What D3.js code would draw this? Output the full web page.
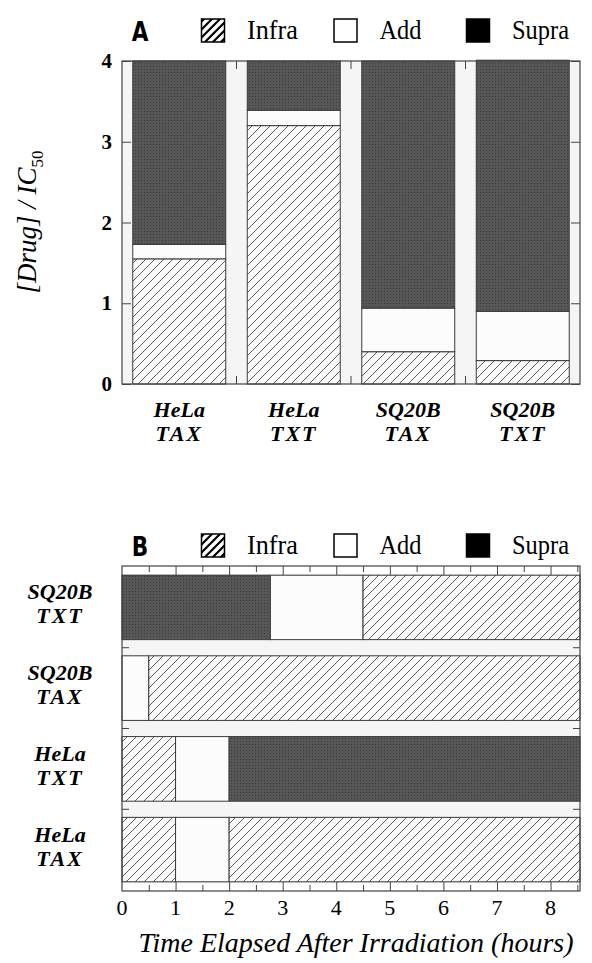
<!DOCTYPE html>
<html>
<head>
<meta charset="utf-8">
<script src="https://cdn.jsdelivr.net/npm/d3@7"></script>
<style>
  body { margin: 0; background: #fff; }
  svg { display: block; }
</style>
</head>
<body>
<svg id="chart" width="592" height="963"></svg>
<script>
// ---- panel A : ratio ranges (stacked) ----
var groupsA = ["HeLa|TAX", "HeLa|TXT", "SQ20B|TAX", "SQ20B|TXT"];
var infraA = [1.55, 3.20, 0.40, 0.29];
var addA   = [0.18, 0.19, 0.54, 0.61];
var supraA = [2.27, 0.61, 3.06, 3.11];
var yTicksA = [0, 1, 2, 3, 4];

// ---- panel B : time segments per row ----
var rowsB = ["SQ20B|TXT", "SQ20B|TAX", "HeLa|TXT", "HeLa|TAX"];
var segRowB  = ["SQ20B|TXT", "SQ20B|TXT", "SQ20B|TXT", "SQ20B|TAX", "SQ20B|TAX",
                "HeLa|TXT", "HeLa|TXT", "HeLa|TXT", "HeLa|TAX", "HeLa|TAX", "HeLa|TAX"];
var segFromB = [0, 2.77, 4.5, 0, 0.5, 0, 1, 2, 0, 1, 2];
var segToB   = [2.77, 4.5, 8.55, 0.5, 8.55, 1, 2, 8.55, 1, 2, 8.55];
var segTypeB = ["Supra", "Add", "Infra", "Add", "Infra", "Infra", "Add", "Supra", "Infra", "Add", "Infra"];
var xTicksB = [0, 1, 2, 3, 4, 5, 6, 7, 8];
var xMaxB = 8.55;

var legendKeys = ["Infra", "Add", "Supra"];

var serif = "'Liberation Serif', 'Times New Roman', serif";
var svg = d3.select("#chart");

// patterns
var defs = svg.append("defs");
var hatch = defs.append("pattern").attr("id", "hatch")
    .attr("patternUnits", "userSpaceOnUse").attr("width", 9).attr("height", 9);
hatch.append("rect").attr("width", 9).attr("height", 9).attr("fill", "#fbfbfb");
hatch.append("path").attr("d", "M0,9 L9,0 M-3,3 L3,-3 M6,12 L12,6")
    .attr("stroke", "#4a4a4a").attr("stroke-width", 0.9);

var hatchBig = defs.append("pattern").attr("id", "hatchBig")
    .attr("patternUnits", "userSpaceOnUse").attr("width", 8).attr("height", 8);
hatchBig.append("rect").attr("width", 8).attr("height", 8).attr("fill", "#fff");
hatchBig.append("path").attr("d", "M0,8 L8,0 M-2,2 L2,-2 M6,10 L10,6")
    .attr("stroke", "#000").attr("stroke-width", 2.2);

var dots = defs.append("pattern").attr("id", "dots")
    .attr("patternUnits", "userSpaceOnUse").attr("width", 3).attr("height", 3);
dots.append("rect").attr("width", 3).attr("height", 3).attr("fill", "#575757");
dots.append("rect").attr("width", 1).attr("height", 1).attr("fill", "#3c3c3c");

var fillOf = { Infra: "url(#hatch)", Add: "#fcfcfc", Supra: "url(#dots)" };
var swatchFill = { Infra: "url(#hatchBig)", Add: "#fff", Supra: "#000" };

function legend(letter, y) {
  var g = svg.append("g").attr("transform", "translate(0," + y + ")");
  g.append("text").attr("x", 140).attr("y", 11)
    .attr("text-anchor", "middle")
    .style("font-family", "'DejaVu Sans', sans-serif").style("font-weight", "bold")
    .style("font-size", "27px").attr("transform", "translate(140,0) scale(0.8,1) translate(-140,0)")
    .text(letter);
  var lx = d3.scalePoint().domain(legendKeys).range([201, 466]);
  var item = g.selectAll(".leg").data(legendKeys).enter().append("g")
    .attr("transform", function(d) { return "translate(" + lx(d) + ",0)"; });
  item.append("rect").attr("x", 0.5).attr("y", -11).attr("width", 23).attr("height", 23)
    .attr("fill", function(d) { return swatchFill[d]; })
    .attr("stroke", "#000").attr("stroke-width", 1.5);
  item.append("text").attr("x", 46).attr("y", 9)
    .style("font-family", serif).style("font-size", "27px")
    .attr("textLength", function(d) { return {Infra: 51, Add: 42, Supra: 57}[d]; })
    .attr("lengthAdjust", "spacingAndGlyphs")
    .text(function(d) { return d; });
}

// ================= Panel A =================
var A = { left: 122, right: 580, top: 61, bottom: 384 };
var xA = d3.scaleBand().domain(groupsA).range([A.left, A.right])
    .paddingInner(0.188).paddingOuter(0.094);
var yA = d3.scaleLinear().domain([0, 4]).range([A.bottom, A.top]);

legend("A", 30);

svg.append("rect").attr("x", A.left).attr("y", A.top)
  .attr("width", A.right - A.left).attr("height", A.bottom - A.top)
  .attr("fill", "#f5f5f5");

var tableA = groupsA.map(function(g, i) {
  return { group: g, Infra: infraA[i], Add: addA[i], Supra: supraA[i] };
});
var stackA = d3.stack().keys(legendKeys)(tableA);

svg.append("g").selectAll("g").data(stackA).enter().append("g")
  .selectAll("rect").data(function(s) { return s.map(function(d) { return { key: s.key, d: d }; }); })
  .enter().append("rect")
  .attr("x", function(o) { return xA(o.d.data.group); })
  .attr("width", xA.bandwidth())
  .attr("y", function(o) { return yA(o.d[1]); })
  .attr("height", function(o) { return yA(o.d[0]) - yA(o.d[1]); })
  .attr("fill", function(o) { return fillOf[o.key]; })
  .attr("stroke", "#3a3a3a").attr("stroke-width", 1);

// frame
svg.append("rect").attr("x", A.left).attr("y", A.top)
  .attr("width", A.right - A.left).attr("height", A.bottom - A.top)
  .attr("fill", "none").attr("stroke", "#444").attr("stroke-width", 1.2);

// y axis (left + mirrored right) with inward ticks
svg.append("g").attr("transform", "translate(" + A.left + ",0)")
  .call(d3.axisRight(yA).tickValues(yTicksA).tickSize(9).tickFormat(""))
  .call(function(g) { g.select(".domain").remove(); g.selectAll("line").attr("stroke", "#444"); });
svg.append("g").attr("transform", "translate(" + A.right + ",0)")
  .call(d3.axisLeft(yA).tickValues(yTicksA).tickSize(9).tickFormat(""))
  .call(function(g) { g.select(".domain").remove(); g.selectAll("line").attr("stroke", "#444"); });

svg.append("g").selectAll("text").data(yTicksA).enter().append("text")
  .attr("x", 112).attr("y", function(d) { return yA(d) + 7; })
  .attr("text-anchor", "end")
  .style("font-family", serif).style("font-weight", "bold").style("font-size", "21px")
  .text(function(d) { return d; });

// ticks between bars (top and bottom)
var gapsA = groupsA.slice(1).map(function(g) { return xA(g) - xA.step() * xA.paddingInner() / 2; });
svg.append("g").selectAll("line").data(gapsA).enter().append("line")
  .attr("x1", function(d) { return d; }).attr("x2", function(d) { return d; })
  .attr("y1", A.top).attr("y2", A.top + 8).attr("stroke", "#444");
svg.append("g").selectAll("line").data(gapsA).enter().append("line")
  .attr("x1", function(d) { return d; }).attr("x2", function(d) { return d; })
  .attr("y1", A.bottom).attr("y2", A.bottom - 8).attr("stroke", "#444");

// category labels
var labA = svg.append("g").selectAll("text").data(groupsA).enter().append("text")
  .attr("x", function(d) { return xA(d) + xA.bandwidth() / 2; })
  .attr("y", 417)
  .attr("text-anchor", "middle")
  .style("font-family", serif).style("font-weight", "bold").style("font-style", "italic")
  .style("font-size", "22px");
labA.append("tspan").attr("x", function(d) { return xA(d) + xA.bandwidth() / 2; })
  .text(function(d) { return d.split("|")[0]; });
labA.append("tspan").attr("x", function(d) { return xA(d) + xA.bandwidth() / 2; })
  .attr("dy", 24).style("letter-spacing", "2px")
  .text(function(d) { return d.split("|")[1]; });

// y title
var yt = svg.append("text")
  .attr("transform", "translate(36," + 222 + ") rotate(-90)")
  .attr("text-anchor", "middle")
  .style("font-family", serif).style("font-style", "italic").style("font-size", "27px");
yt.append("tspan").text("[Drug] / IC");
yt.append("tspan").attr("dy", 7).style("font-size", "17px").style("font-style", "normal").text("50");

// ================= Panel B =================
var B = { left: 122, right: 580, top: 566, bottom: 891, strip: 9 };
var xB = d3.scaleLinear().domain([0, xMaxB]).range([B.left, B.right]);
var yB = d3.scaleBand().domain(rowsB).range([B.top + B.strip, B.bottom - B.strip])
    .paddingInner(0.2).paddingOuter(0);

legend("B", 545);

svg.append("rect").attr("x", B.left).attr("y", B.top)
  .attr("width", B.right - B.left).attr("height", B.bottom - B.top)
  .attr("fill", "#f5f5f5");

svg.append("g").selectAll("rect").data(segRowB).enter().append("rect")
  .attr("x", function(d, i) { return xB(segFromB[i]); })
  .attr("width", function(d, i) { return xB(segToB[i]) - xB(segFromB[i]); })
  .attr("y", function(d) { return yB(d); })
  .attr("height", yB.bandwidth())
  .attr("fill", function(d, i) { return fillOf[segTypeB[i]]; })
  .attr("stroke", "#3a3a3a").attr("stroke-width", 1);

// tick strips top and bottom
[B.top + B.strip, B.bottom - B.strip].forEach(function(yy) {
  svg.append("line").attr("x1", B.left).attr("x2", B.right).attr("y1", yy).attr("y2", yy)
    .attr("stroke", "#444");
});
svg.append("rect").attr("x", B.left).attr("y", B.top + 0.5).attr("width", B.right - B.left)
  .attr("height", B.strip - 1).attr("fill", "#fff");
svg.append("rect").attr("x", B.left).attr("y", B.bottom - B.strip + 0.5).attr("width", B.right - B.left)
  .attr("height", B.strip - 1).attr("fill", "#fff");

var minorB = d3.range(0.5, xMaxB, 0.5);
svg.append("g").attr("transform", "translate(0," + B.top + ")")
  .call(d3.axisBottom(xB).tickValues(minorB).tickSize(B.strip).tickFormat(""))
  .call(function(g) { g.select(".domain").remove(); g.selectAll("line").attr("stroke", "#444")
    .attr("y2", function(d) { return d % 1 === 0 ? B.strip : 6; }); });
svg.append("g").attr("transform", "translate(0," + B.bottom + ")")
  .call(d3.axisTop(xB).tickValues(minorB).tickSize(B.strip).tickFormat(""))
  .call(function(g) { g.select(".domain").remove(); g.selectAll("line").attr("stroke", "#444")
    .attr("y2", function(d) { return d % 1 === 0 ? -B.strip : -6; }); });

// frame
svg.append("rect").attr("x", B.left).attr("y", B.top)
  .attr("width", B.right - B.left).attr("height", B.bottom - B.top)
  .attr("fill", "none").attr("stroke", "#444").attr("stroke-width", 1.2);

// row gap ticks left/right
var gapsB = rowsB.slice(1).map(function(r) { return yB(r) - yB.step() * yB.paddingInner() / 2; });
svg.append("g").selectAll("line").data(gapsB).enter().append("line")
  .attr("x1", B.left).attr("x2", B.left + 7)
  .attr("y1", function(d) { return d; }).attr("y2", function(d) { return d; }).attr("stroke", "#444");
svg.append("g").selectAll("line").data(gapsB).enter().append("line")
  .attr("x1", B.right).attr("x2", B.right - 7)
  .attr("y1", function(d) { return d; }).attr("y2", function(d) { return d; }).attr("stroke", "#444");

// x tick labels
svg.append("g").selectAll("text").data(xTicksB).enter().append("text")
  .attr("x", function(d) { return xB(d); }).attr("y", 915)
  .attr("text-anchor", "middle")
  .style("font-family", serif).style("font-size", "22px")
  .text(function(d) { return d; });

svg.append("text").attr("x", 356).attr("y", 952)
  .attr("text-anchor", "middle")
  .style("font-family", serif).style("font-style", "italic").style("font-size", "28px")
  .text("Time Elapsed After Irradiation (hours)");

// row labels
var labB = svg.append("g").selectAll("text").data(rowsB).enter().append("text")
  .attr("x", 60)
  .attr("y", function(d) { return yB(d) + yB.bandwidth() / 2 - 8; })
  .attr("text-anchor", "middle")
  .style("font-family", serif).style("font-weight", "bold").style("font-style", "italic")
  .style("font-size", "22px");
labB.append("tspan").attr("x", 60).text(function(d) { return d.split("|")[0]; });
labB.append("tspan").attr("x", 60).attr("dy", 24).style("letter-spacing", "2px")
  .text(function(d) { return d.split("|")[1]; });
</script>
</body>
</html>
